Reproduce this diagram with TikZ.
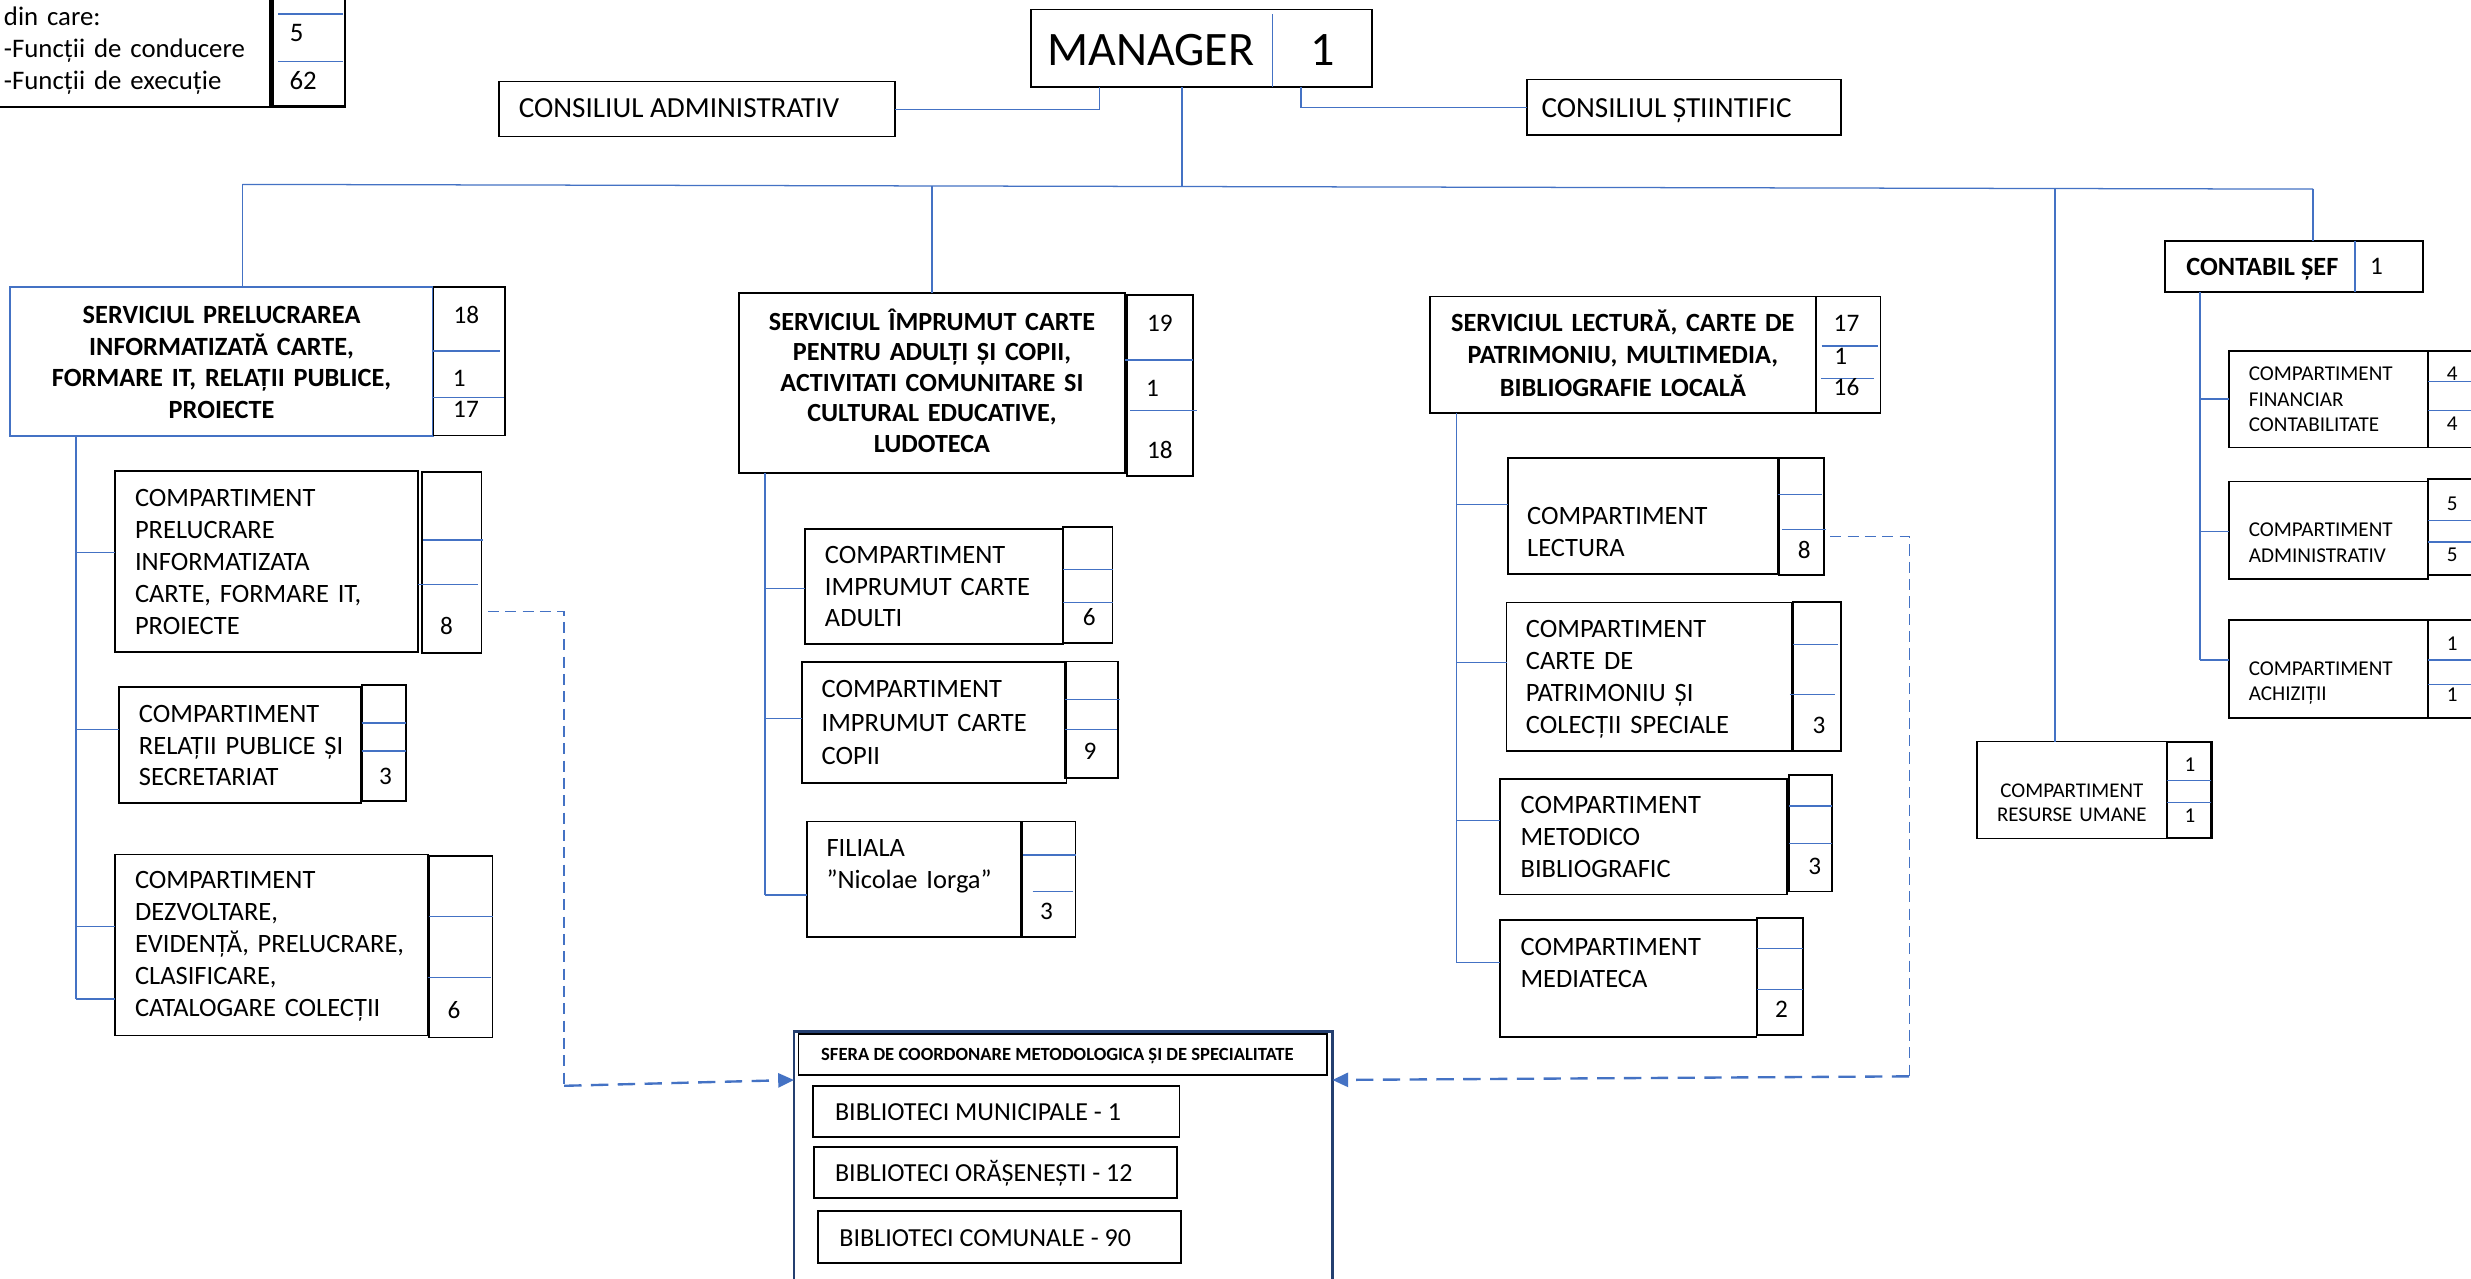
\documentclass[tikz,border=0pt]{standalone}
\usepackage{fontspec}
\setmainfont{Carlito}
\usetikzlibrary{arrows.meta}
\definecolor{cblue}{HTML}{4472C4}
\definecolor{navy}{HTML}{243F70}
\newcommand\fsA{\fontsize{16.8pt}{20.3pt}\selectfont}
\newcommand\fsC{\fontsize{13.4pt}{16pt}\selectfont}
\newcommand\fsN{\fontsize{16pt}{19pt}\selectfont}
\newcommand\fsM{\fontsize{30.5pt}{36pt}\selectfont}
\newcommand\fsK{\fontsize{18.5pt}{22pt}\selectfont}
\newcommand\fsS{\fontsize{11.8pt}{14pt}\selectfont\bfseries}
\newcommand\fsL{\fontsize{16.5pt}{20pt}\selectfont}
\newcommand\fsT{\fontsize{17pt}{20.1pt}\selectfont}
\newcommand{\Bx}[6][]{\node[bx,#1,anchor=north west,minimum width={(#4)-(#2)},minimum height={(#5)-(#3)}] (#6) at (#2,#3) {};}
\frenchspacing
\begin{document}
\begin{tikzpicture}[x=1pt,y=-1pt,
 bx/.style={draw=black,line width=1.1pt,inner sep=0pt,outer sep=0pt},
 bl/.style={draw=cblue,line width=0.8pt},
 tl/.style={anchor=base west,align=left,text width=#1,inner sep=0pt,outer sep=0pt},
 tl/.default=300pt,
 tc/.style={anchor=base,align=center,text width=#1,inner sep=0pt,outer sep=0pt},
 num/.style={anchor=base,inner sep=0pt,font=\fsN},
 nums/.style={anchor=base,inner sep=0pt,font=\fsC},
 sl/.style={anchor=base west,inner sep=0pt},
 dthin/.style={draw=cblue,line width=0.9pt,dash pattern=on 7pt off 4pt},
 darr/.style={draw=cblue,line width=1.5pt,dash pattern=on 11pt off 6pt,-{Triangle[length=10pt,width=9pt]}}]
\fill[white] (0,0) rectangle (1568,811);
\useasboundingbox (0,0) rectangle (1568,811);

% ---------- top-left summary
\Bx[line width=1.3pt]{-10}{-10}{171.3}{67.7}{tlb}
\Bx[line width=1.7pt]{173}{-10}{218.9}{67.7}{tln}
\draw[bl] (176.6,8.9) -- (217.8,8.9);
\draw[bl] (176.6,39.1) -- (217.8,39.1);
\node[tl,font=\fsT] (tlt) at (2.5,16.4) {din care:\\-Funcții de conducere\\-Funcții de execuție};
\node[num,font=\fsT] (tlnA) at (188.2,26.3) {5};
\node[num,font=\fsT] (tlnB) at (192.4,56.5) {62};

% ---------- manager and councils
\Bx{654}{6}{870.6}{55.4}{mgr}
\draw[bl] (807.7,9) -- (807.7,55.4);
\node[anchor=base,inner sep=0pt,font=\fsM] (mgrt) at (730.2,41.5) {MANAGER};
\node[anchor=base,inner sep=0pt,font=\fsM] (mgrn) at (839.6,41.5) {1};
\Bx{316.6}{51.8}{568}{86.7}{cadm}
\node[sl,font=\fsK] (cadmt) at (329,74.6) {CONSILIUL ADMINISTRATIV};
\Bx{969}{50.5}{1168}{85.5}{csti}
\node[sl,font=\fsK] (cstit) at (978,74.8) {CONSILIUL ȘTIINTIFIC};

% ---------- Serviciul Prelucrarea
\Bx[draw=cblue,line width=1.2pt]{6.3}{182.3}{275}{276.4}{spre}
\Bx{275}{182.3}{320.4}{276.4}{spren}
\draw[bl] (274,222.7) -- (317,222.7);
\draw[bl] (275,252) -- (320,252);
\node[num] (spreA) at (296,205) {18};
\node[num] (spreB) at (291.4,245.2) {1};
\node[num] (spreC) at (295.7,265.2) {17};
\node[tc=262pt,font={\fontsize{16.7pt}{20pt}\selectfont\bfseries}] (sprt) at (140.6,205.4) {SERVICIUL PRELUCRAREA\\INFORMATIZATĂ CARTE,\\FORMARE IT, RELAȚII PUBLICE,\\PROIECTE};

\Bx{73}{298.9}{265.4}{413.5}{c1}
\Bx{267.6}{299.6}{305.6}{414.2}{c1n}
\draw[bl] (268.6,342.6) -- (306.7,342.6);
\draw[bl] (265.4,371) -- (303.5,371);
\node[num] (c1a) at (283.4,402.9) {8};
\node[tl,font=\fsA] (c1t) at (85.7,321.3) {COMPARTIMENT\\PRELUCRARE\\INFORMATIZATA\\CARTE, FORMARE IT,\\PROIECTE};

\Bx{75.5}{436.1}{229}{509.5}{c2}
\Bx{229.5}{434.9}{257.4}{508.4}{c2n}
\draw[bl] (229.5,458.7) -- (257.4,458.7);
\draw[bl] (229.5,476.6) -- (257.4,476.6);
\node[num] (c2a) at (244.7,497.6) {3};
\node[tl,font={\fontsize{16.8pt}{20.1pt}\selectfont}] (c2t) at (88.2,458.4) {COMPARTIMENT\\RELAȚII PUBLICE ȘI\\SECRETARIAT};

\Bx{73}{542.2}{271.8}{657.1}{c3}
\Bx{272.4}{543}{312.6}{658.3}{c3n}
\draw[bl] (272.4,581.8) -- (312.6,581.8);
\draw[bl] (271.4,620.2) -- (311.6,620.2);
\node[num] (c3a) at (288.1,646.5) {6};
\node[tl,font=\fsA] (c3t) at (85.7,564.1) {COMPARTIMENT\\DEZVOLTARE,\\EVIDENȚĂ, PRELUCRARE,\\CLASIFICARE,\\CATALOGARE COLECȚII};

% ---------- Serviciul Imprumut
\Bx{468.9}{186.1}{713.8}{300.3}{simp}
\Bx{715}{187.2}{757.2}{302}{simpn}
\draw[bl] (713.8,228.4) -- (757.2,228.4);
\draw[bl] (717.2,260.6) -- (759.3,260.6);
\node[num] (simpA) at (736,210.2) {19};
\node[num] (simpB) at (731.4,251.4) {1};
\node[num] (simpC) at (736,290.8) {18};
\node[tc=240pt,font={\fontsize{16.6pt}{19.3pt}\selectfont\bfseries}] (simpt) at (591.4,209.7) {SERVICIUL ÎMPRUMUT CARTE\\PENTRU ADULȚI ȘI COPII,\\ACTIVITATI COMUNITARE SI\\CULTURAL EDUCATIVE,\\LUDOTECA};

\Bx{510.8}{335.9}{674.3}{408.8}{a1}
\Bx{674.7}{334.2}{706}{407.8}{a1n}
\draw[bl] (674.7,361.3) -- (706,361.3);
\draw[bl] (674.7,382.4) -- (706,382.4);
\node[num] (a1a) at (691.2,396.9) {6};
\node[tl,font={\fontsize{16.8pt}{20pt}\selectfont}] (a1t) at (523.5,357.6) {COMPARTIMENT\\IMPRUMUT CARTE\\ADULTI};

\Bx{508.7}{420.3}{676.8}{497}{a2}
\Bx{675.8}{419.8}{709.6}{493.9}{a2n}
\draw[bl] (675.8,443.7) -- (710.5,443.7);
\draw[bl] (675.8,462.8) -- (708.6,462.8);
\node[num] (a2a) at (691.6,482.2) {9};
\node[tl,font={\fontsize{16.8pt}{21.3pt}\selectfont}] (a2t) at (521.4,442.8) {COMPARTIMENT\\IMPRUMUT CARTE\\COPII};

\Bx{511.9}{521.3}{647.6}{594.8}{a3}
\Bx{648.3}{521.3}{682.5}{594.8}{a3n}
\draw[bl] (649.3,542.5) -- (682.5,542.5);
\draw[bl] (655.3,565.8) -- (681,565.8);
\node[num] (a3a) at (664.1,583.7) {3};
\node[tl,font={\fontsize{16.8pt}{20.1pt}\selectfont}] (a3t) at (524.5,543.7) {FILIALA\\”Nicolae Iorga”};

% ---------- Serviciul Lectura
\Bx{907.4}{188.2}{1152.3}{262.3}{slec}
\Bx{1152.3}{188.2}{1193.3}{262.3}{slecn}
\draw[bl] (1155.9,219.5) -- (1191.8,219.5);
\draw[bl] (1155.4,240) -- (1189,240);
\node[num] (slecA) at (1171.7,210.2) {17};
\node[num] (slecB) at (1168,231.2) {1};
\node[num] (slecC) at (1171.7,251.2) {16};
\node[tc=240pt,font={\fontsize{16.7pt}{20.5pt}\selectfont\bfseries}] (slect) at (1029.8,210.4) {SERVICIUL LECTURĂ, CARTE DE\\PATRIMONIU, MULTIMEDIA,\\BIBLIOGRAFIE LOCALĂ};

\Bx{957.1}{290.6}{1128.4}{364.2}{l1}
\Bx{1129}{290.7}{1157.4}{364.9}{l1n}
\draw[bl] (1128,313.9) -- (1155.9,313.9);
\draw[bl] (1130.7,335.8) -- (1158.6,335.8);
\node[num] (l1a) at (1144.9,354.1) {8};
\node[tl,font={\fontsize{16.8pt}{20.2pt}\selectfont}] (l1t) at (969.1,333.1) {COMPARTIMENT\\LECTURA};

\Bx{956}{382.4}{1136.9}{476.4}{l2}
\Bx{1137.9}{382.1}{1168}{476.4}{l2n}
\draw[bl] (1137.9,409.1) -- (1166,409.1);
\draw[bl] (1135.8,440.7) -- (1164.3,440.7);
\node[num] (l2a) at (1154.2,465.3) {3};
\node[tl,font={\fontsize{16.8pt}{20.4pt}\selectfont}] (l2t) at (968.3,404.3) {COMPARTIMENT\\CARTE DE\\PATRIMONIU ȘI\\COLECȚII SPECIALE};

\Bx{951.8}{494.1}{1134.1}{567.6}{l3}
\Bx{1135.4}{491.9}{1162.4}{565.7}{l3n}
\draw[bl] (1135.4,511.5) -- (1162.4,511.5);
\draw[bl] (1135.4,535.3) -- (1162.4,535.3);
\node[num] (l3a) at (1151.6,554.7) {3};
\node[tl,font={\fontsize{16.8pt}{20.05pt}\selectfont}] (l3t) at (964.9,516.5) {COMPARTIMENT\\METODICO\\BIBLIOGRAFIC};

\Bx{951.8}{584}{1114.6}{658}{l4}
\Bx{1115}{582.7}{1144.2}{656.8}{l4n}
\draw[bl] (1115,601.7) -- (1144.2,601.7);
\draw[bl] (1115,627.7) -- (1144.2,627.7);
\node[num] (l4a) at (1130.5,645.4) {2};
\node[tl,font={\fontsize{16.8pt}{20.2pt}\selectfont}] (l4t) at (964.9,606.3) {COMPARTIMENT\\MEDIATECA};

% ---------- Resurse umane
\Bx{1254.6}{470.6}{1374.8}{532}{ru}
\Bx[line width=1.3pt]{1374.8}{470.6}{1403.3}{532}{run}
\draw[bl] (1374.8,495.1) -- (1403.3,495.1);
\draw[bl] (1374.8,509.3) -- (1403.3,509.3);
\node[nums] (ruA) at (1389.6,489.8) {1};
\node[nums] (ruB) at (1389.6,522) {1};
\node[tc=118pt,font={\fontsize{13.3pt}{15.4pt}\selectfont}] (rut) at (1314.7,506.1) {COMPARTIMENT\\RESURSE UMANE};

% ---------- Contabil sef
\Bx{1373.7}{152.7}{1537.6}{185.5}{cs}
\draw[bl] (1494.3,152.7) -- (1494.3,185.5);
\node[anchor=base,inner sep=0pt,font={\fontsize{16.7pt}{20pt}\selectfont\bfseries}] (cst) at (1435.6,174.6) {CONTABIL ȘEF};
\node[num] (csn) at (1508,174.4) {1};

\Bx{1414.6}{222.7}{1540.8}{284}{f1}
\Bx{1540.8}{222.7}{1580}{284}{f1n}
\draw[bl] (1540.8,242) -- (1568,242);
\draw[bl] (1540.8,260.6) -- (1568,260.6);
\node[nums] (f1a) at (1556,241.2) {4};
\node[nums] (f1b) at (1556,273.4) {4};
\node[tl,font={\fontsize{13.4pt}{16pt}\selectfont}] (f1t) at (1427,241.7) {COMPARTIMENT\\FINANCIAR\\CONTABILITATE};

\Bx{1414.6}{305.6}{1540.8}{367.4}{f2}
\Bx{1540.8}{304}{1580}{365}{f2n}
\draw[bl] (1540.8,330.4) -- (1568,330.4);
\draw[bl] (1540.8,344) -- (1568,344);
\node[nums] (f2a) at (1556,323.7) {5};
\node[nums] (f2b) at (1556,356) {5};
\node[tl,font={\fontsize{13.4pt}{16.5pt}\selectfont}] (f2t) at (1427,340.7) {COMPARTIMENT\\ADMINISTRATIV};

\Bx{1414.6}{393.4}{1540.8}{455.4}{f3}
\Bx{1540.8}{393.4}{1580}{455.4}{f3n}
\draw[bl] (1540.8,418.8) -- (1568,418.8);
\draw[bl] (1540.8,434.2) -- (1568,434.2);
\node[nums] (f3a) at (1556,412.6) {1};
\node[nums] (f3b) at (1556,445.4) {1};
\node[tl,font={\fontsize{13.4pt}{16pt}\selectfont}] (f3t) at (1427,428.4) {COMPARTIMENT\\ACHIZIȚII};

% ---------- Sfera
\Bx[draw=navy,line width=1.7pt]{503.8}{654.6}{845.5}{830}{sf}
\Bx{506.7}{656.1}{841.9}{682}{sft}
\node[anchor=base,inner sep=0pt,font=\fsS] (sftt) at (671,673.2) {SFERA DE COORDONARE METODOLOGICA ȘI DE SPECIALITATE};
\Bx{516}{688.9}{748.5}{721.7}{b1}
\node[sl,font=\fsL] (b1t) at (529.7,710.7) {BIBLIOTECI MUNICIPALE - 1};
\Bx{516.5}{727.6}{746.8}{760.4}{b2}
\node[sl,font=\fsL] (b2t) at (529.7,749.8) {BIBLIOTECI ORĂȘENEȘTI - 12};
\Bx{519}{768.4}{749.6}{801.6}{b3}
\node[sl,font=\fsL] (b3t) at (532.5,791) {BIBLIOTECI COMUNALE - 90};

% ---------- connectors (top)
\coordinate (m1) at (697.5,55.4);
\coordinate (m2) at (825.5,55.4);
\coordinate (m3) at (750,55.4);
\coordinate (busM) at (750,118.4);
\coordinate (busL) at (153.8,117);
\coordinate (busR) at (1467.8,120);
\coordinate (d2) at (591.4,118);
\coordinate (d3) at (1304,119.6);
\draw[bl] (cadm.east) -| (m1);
\draw[bl] (m2) |- (csti.west);
\draw[bl] (m3) -- (busM);
\draw[bl] (busL) -- (busR);
\draw[bl] (busL) -- (busL |- spre.north);
\draw[bl] (d2) -- (d2 |- simp.north);
\draw[bl] (d3) -- (d3 |- ru.north);
\draw[bl] (busR) -- (busR |- cs.north);

% left column
\coordinate (v1) at (48.2,634);
\coordinate (t11) at (48.2,350.6);
\coordinate (t12) at (48.2,463);
\coordinate (t13) at (48.2,587.9);
\draw[bl] (spre.south -| v1) -- (v1);
\draw[bl] (t11) -- (t11 -| c1.west);
\draw[bl] (t12) -- (t12 -| c2.west);
\draw[bl] (t13) -- (t13 -| c3.west);
\draw[bl] (v1) -- (v1 -| c3.west);

% middle column
\coordinate (v2) at (485.4,567.9);
\coordinate (t21) at (485.4,373.3);
\coordinate (t22) at (485.4,455.8);
\draw[bl] (simp.south -| v2) -- (v2);
\draw[bl] (t21) -- (t21 -| a1.west);
\draw[bl] (t22) -- (t22 -| a2.west);
\draw[bl] (v2) -- (v2 -| a3.west);

% lectura column
\coordinate (v3) at (924,610.7);
\coordinate (t31) at (924,320);
\coordinate (t32) at (924,420.2);
\coordinate (t33) at (924,520.8);
\draw[bl] (slec.south -| v3) -- (v3);
\draw[bl] (t31) -- (t31 -| l1.west);
\draw[bl] (t32) -- (t32 -| l2.west);
\draw[bl] (t33) -- (t33 -| l3.west);
\draw[bl] (v3) -- (v3 -| l4.west);

% contabil column
\coordinate (v4) at (1396,418.8);
\coordinate (t41) at (1396,253.2);
\coordinate (t42) at (1396,337.4);
\draw[bl] (cs.south -| v4) -- (v4);
\draw[bl] (t41) -- (t41 -| f1.west);
\draw[bl] (t42) -- (t42 -| f2.west);
\draw[bl] (v4) -- (v4 -| f3.west);

% dashed coordination arrows
\coordinate (k1) at (358,388);
\coordinate (k2) at (358,689);
\coordinate (sfL) at (503.8,685.3);
\coordinate (k3) at (1211.5,340.6);
\coordinate (k4) at (1211.5,683);
\coordinate (sfR) at (845.5,685.3);
\draw[dthin] ([xshift=4pt]k1 -| c1n.east) -- (k1) -- (k2);
\draw[darr] (k2) -- (sfL);
\draw[dthin] ([xshift=4pt]k3 -| l1n.east) -- (k3) -- (k4);
\draw[darr] (k4) -- (sfR);
\end{tikzpicture}
\end{document}
